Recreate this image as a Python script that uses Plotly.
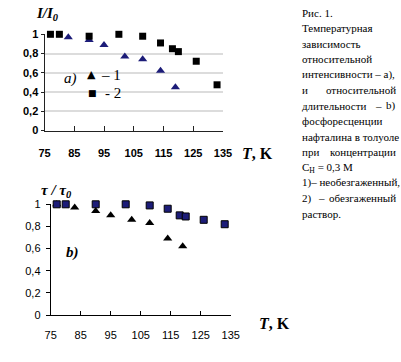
import plotly.graph_objects as go

# ---- data ----
T_sq = [77, 80, 90, 100, 108, 114, 118, 120, 126, 133]      # series 2 (squares)
T_tri_a = [83, 90, 95, 102, 108, 114, 119]                   # series 1, panel a
T_tri_b = [77, 83, 90, 95, 102, 108, 114, 119]               # series 1, panel b

I_tri = [0.97, 0.94, 0.89, 0.77, 0.74, 0.62, 0.45]
I_sq = [1.0, 1.0, 0.98, 1.0, 0.98, 0.91, 0.85, 0.82, 0.72, 0.475]

tau_tri = [1.0, 0.97, 0.94, 0.90, 0.86, 0.83, 0.69, 0.62]
tau_sq = [1.0, 1.0, 1.0, 1.0, 0.99, 0.96, 0.90, 0.89, 0.86, 0.82]

x_ticks = [75, 85, 95, 105, 115, 125, 135]
y_ticks = [0, 0.2, 0.4, 0.6, 0.8, 1]
y_tick_text = ["0", "0,2", "0,4", "0,6", "0,8", "1"]

caption = [
    "Рис. 1.",
    "Температурная",
    "зависимость",
    "относительной",
    "интенсивности – а),",
]

W, H = 401, 362
NAVY = "#1c1c78"

fig = go.Figure()

# panel a
fig.add_trace(go.Scatter(x=T_tri_a, y=I_tri, mode="markers", xaxis="x", yaxis="y",
                         marker=dict(symbol="triangle-up", size=8, color=NAVY),
                         cliponaxis=False, showlegend=False))
fig.add_trace(go.Scatter(x=T_sq, y=I_sq, mode="markers", xaxis="x", yaxis="y",
                         marker=dict(symbol="square", size=7, color="black"),
                         cliponaxis=False, showlegend=False))
# panel b
fig.add_trace(go.Scatter(x=T_tri_b, y=tau_tri, mode="markers", xaxis="x2", yaxis="y2",
                         marker=dict(symbol="triangle-up", size=8, color="black"),
                         cliponaxis=False, showlegend=False))
fig.add_trace(go.Scatter(x=T_sq, y=tau_sq, mode="markers", xaxis="x2", yaxis="y2",
                         marker=dict(symbol="square", size=7, color=NAVY,
                                     line=dict(color="black", width=1)),
                         cliponaxis=False, showlegend=False))


def px_x(p):
    return p / W


def px_y(p):
    return 1 - p / H


tick_a = dict(family="Liberation Sans", size=11, color="black", weight="bold")
tick_b = dict(family="Liberation Sans", size=11, color="black")

fig.update_layout(
    width=W, height=H, margin=dict(l=0, r=0, t=0, b=0, autoexpand=False),
    paper_bgcolor="white", plot_bgcolor="white",
    xaxis=dict(domain=[px_x(44.5), px_x(223)], range=[75, 135], anchor="y",
               tickvals=x_ticks, ticktext=[str(v) for v in x_ticks],
               ticks="inside", ticklen=5, tickcolor="#222", showgrid=False,
               showline=True, linecolor="#222", linewidth=1, zeroline=False,
               tickfont=tick_a, ticklabelstandoff=12, automargin=False),
    yaxis=dict(domain=[px_y(130.5), px_y(34.3)], range=[0, 1], anchor="x",
               tickvals=y_ticks, ticktext=y_tick_text,
               ticks="outside", ticklen=3, tickcolor="#222",
               showgrid=True, gridcolor="#dcdcdc", gridwidth=2,
               showline=True, linecolor="#222", linewidth=1, zeroline=False,
               tickfont=tick_a, ticklabelstandoff=0, automargin=False),
    xaxis2=dict(domain=[px_x(50.7), px_x(230.7)], range=[75, 135], anchor="y2",
                tickvals=x_ticks, ticktext=[str(v) for v in x_ticks],
                ticks="inside", ticklen=4, tickcolor="black", showgrid=False,
                showline=True, linecolor="black", linewidth=1, zeroline=False,
                tickfont=tick_b, ticklabelstandoff=10, automargin=False),
    yaxis2=dict(domain=[px_y(315), px_y(204.3)], range=[0, 1], anchor="x2",
                tickvals=y_ticks, ticktext=y_tick_text,
                ticks="outside", ticklen=4, tickcolor="black", showgrid=False,
                showline=True, linecolor="black", linewidth=1, zeroline=False,
                tickfont=tick_b, ticklabelstandoff=3, automargin=False),
)

SERIF = "Liberation Serif"


def ann(text, x, y, size=11, xanchor="left", yanchor="middle", color="black", family=SERIF):
    fig.add_annotation(text=text, x=px_x(x), y=px_y(y), xref="paper", yref="paper",
                       showarrow=False, xanchor=xanchor, yanchor=yanchor,
                       font=dict(family=family, size=size, color=color))


# axis titles
ann("<b><i>I/I<sub>0</sub></i></b>", 34, 14, size=15)
ann("<b><i>τ</i></b> <b><i>/</i></b> <b><i>τ<sub>0</sub></i></b>", 39, 191, size=15)
ann("<b><i>T</i>, K</b>", 240, 153, size=16)
ann("<b><i>T</i>, K</b>", 257, 323, size=16)

# panel labels / legend
ann("<i>a)</i>", 62, 78, size=15)
ann("▲", 91, 75, size=11, xanchor="center", family="DejaVu Sans")
ann("– 1", 99, 75, size=15)
ann("■", 92, 93, size=9, xanchor="center", family="DejaVu Sans")
ann("- 2", 103, 93, size=15)
ann("<b><i>b)</i></b>", 64, 252, size=15)

# caption text
LX, RX = 300, 398
y0, dy = 13, 15.45
for i, line in enumerate(caption):
    ann(line, LX, y0 + i * dy)
row = len(caption)
ann("и", LX, y0 + row * dy)
ann("относительной", RX, y0 + row * dy, xanchor="right")
row += 1
ann("длительности", LX, y0 + row * dy)
ann("–", 378, y0 + row * dy, xanchor="center")
ann("b)", RX, y0 + row * dy, xanchor="right")
row += 1
ann("фосфоресценции", LX, y0 + row * dy)
row += 1
ann("нафталина в толуоле", LX, y0 + row * dy)
row += 1
ann("при", LX, y0 + row * dy)
ann("концентрации", RX, y0 + row * dy, xanchor="right")
row += 1
ann("C<sub>H</sub> = 0,3 М", LX, y0 + row * dy)
row += 1
ann("1)– необезгаженный,", LX, y0 + row * dy)
row += 1
ann("2)", LX, y0 + row * dy)
ann("–", 321, y0 + row * dy, xanchor="center")
ann("обезгаженный", RX, y0 + row * dy, xanchor="right")
row += 1
ann("раствор.", LX, y0 + row * dy)

fig.write_html("out.html", config={"displayModeBar": False},
               post_script="document.body.style.margin='0';document.body.style.padding='0';")
